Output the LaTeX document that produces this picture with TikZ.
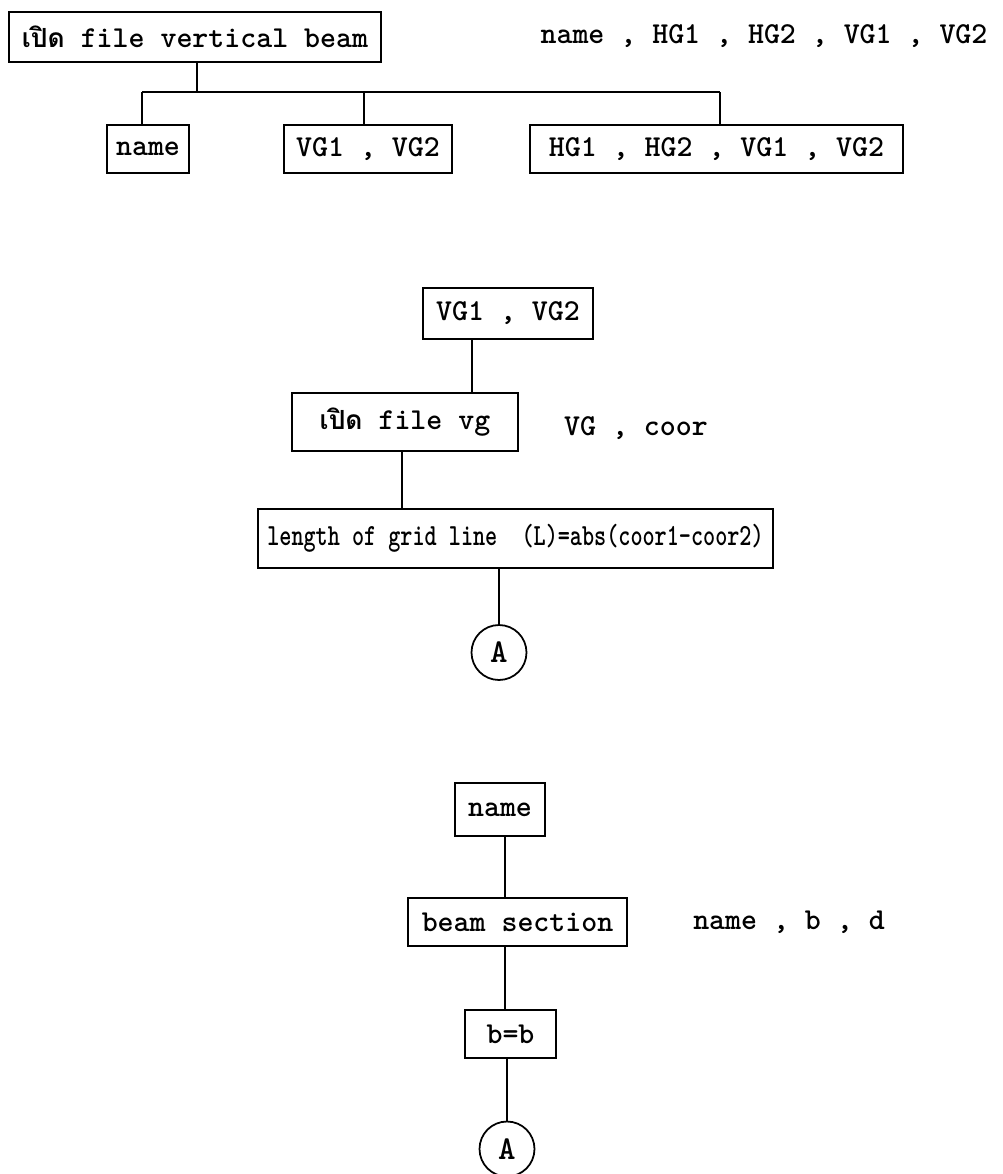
\documentclass[tikz,border=0pt]{standalone}
\usepackage{fontspec}
\usepackage{graphicx}
\newfontfamily\thaifont[Script=Thai]{Loma}
\tikzset{chart/.style={x=0.02cm,y=-0.02cm,line width=1pt,
    font=\ttfamily\bfseries\fontsize{17.3}{20}\selectfont}}
\tikzset{flowbox/.style={draw,inner sep=0pt},
    conn/.style={draw,circle,minimum size=1.1cm,inner sep=0pt,font=\ttfamily\bfseries\fontsize{19}{20}\selectfont}}
\newcommand{\thopen}{{\thaifont\fontsize{15}{18}\selectfont เปิด}}

\begin{document}
\begin{tikzpicture}[chart]
    \useasboundingbox (0,0) rectangle (1002,1174);
    % open vertical beam file and split
    \node[flowbox,minimum width=7.44cm,minimum height=1.0cm] (open) at (195,37) {\thopen{} file vertical beam};
    \node (varsA) at (764,36) {name , HG1 , HG2 , VG1 , VG2};
    \node[flowbox,minimum width=1.64cm,minimum height=0.96cm] (nmA) at (148,149) {name};
    \node[flowbox,minimum width=3.36cm,minimum height=0.96cm] (vgA) at (368,149) {VG1 , VG2};
    \node[flowbox,minimum width=7.46cm,minimum height=0.96cm] (hgA) at (716.5,149) {HG1 , HG2 , VG1 , VG2};
    \coordinate (busL) at (142,92);
    \coordinate (busT) at (197,92);
    \coordinate (busM) at (364,92);
    \coordinate (busR) at (720,92);
    \draw (open.south -| busT) -- (busT);
    \draw (busL) -- (busR);
    \draw (busL) -- (busL |- nmA.north);
    \draw (busM) -- (busM |- vgA.north);
    \draw (busR) -- (busR |- hgA.north);
    % grid line length
    \node[flowbox,minimum width=3.4cm,minimum height=1.02cm] (vgin) at (508,313.5) {VG1 , VG2};
    \node[flowbox,minimum width=4.52cm,minimum height=1.16cm] (vgfile) at (405,422) {\thopen{} file vg};
    \node (varsB) at (636,428) {VG , coor};
    \node[flowbox,minimum width=10.3cm,minimum height=1.18cm,font=\ttfamily\bfseries\fontsize{17.5}{20}\selectfont] (len) at (515.5,538.5) {\scalebox{0.75}[1]{length of grid line\ \ (L)=abs(coor1-coor2)}};
    \node[conn] (ca) at (499,652.5) {A};
    \coordinate (ja) at (472,0);
    \coordinate (jb) at (402,0);
    \draw (vgin.south -| ja) -- (vgfile.north -| ja);
    \draw (vgfile.south -| jb) -- (len.north -| jb);
    \draw (ca |- len.south) -- (ca);
    % beam section
    \node[flowbox,minimum width=1.8cm,minimum height=1.06cm] (nmB) at (500,809.5) {name};
    \node[flowbox,minimum width=4.38cm,minimum height=0.96cm] (sect) at (517.5,922) {beam section};
    \node (varsC) at (789,922) {name , b , d};
    \node[flowbox,minimum width=1.82cm,minimum height=0.96cm] (bb) at (510.5,1034) {b=b};
    \node[conn] (cb) at (507,1149) {A};
    \coordinate (jc) at (505,0);
    \draw (nmB.south -| jc) -- (sect.north -| jc);
    \draw (sect.south -| jc) -- (bb.north -| jc);
    \draw (cb |- bb.south) -- (cb);
\end{tikzpicture}
\end{document}
